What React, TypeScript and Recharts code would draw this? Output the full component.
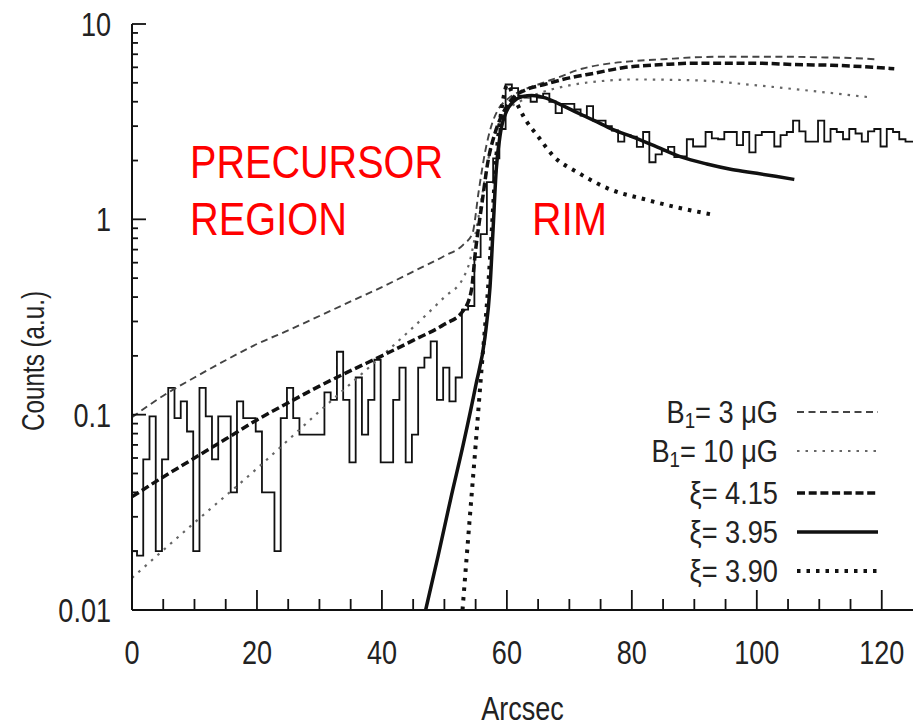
import React from "react";
import { LineChart, Line, XAxis, YAxis, Legend, Label } from "recharts";

// histogram: bin counts, 1 arcsec bins, first edge slightly left of 0
const HIST_FIRST_EDGE = -0.2;
const HIST_BIN = 1;
const HIST_COUNTS = [
  0.02, 0.019, 0.059, 0.098, 0.02, 0.059, 0.137, 0.096, 0.117, 0.082,
  0.02, 0.137, 0.098, 0.059, 0.098, 0.098, 0.04, 0.117, 0.096, 0.096,
  0.082, 0.04, 0.04, 0.02, 0.096, 0.137, 0.096, 0.079, 0.079, 0.079,
  0.079, 0.13, 0.119, 0.21, 0.119, 0.057, 0.155, 0.079, 0.119, 0.191,
  0.057, 0.057, 0.119, 0.174, 0.057, 0.079, 0.174, 0.196, 0.237, 0.119,
  0.174, 0.117, 0.155, 0.345, 0.36, 0.64, 0.84, 1.55, 2.05, 2.9,
  4.9, 4.7, 4.3, 4.2, 4.0, 4.2, 4.4, 4.0, 3.5, 3.9,
  3.9, 3.65, 3.4, 3.8, 3.2, 3.2, 3.0, 2.85, 2.5, 2.7,
  2.65, 2.35, 2.8, 1.96, 2.15, 2.25, 2.35, 2.08, 2.1, 2.57,
  2.36, 2.36, 2.8, 2.6, 2.57, 2.8, 2.8, 2.4, 2.8, 2.2,
  2.7, 2.8, 2.8, 2.36, 2.7, 2.8, 3.2, 2.82, 2.5, 2.5,
  3.2, 2.5, 2.9, 2.8, 2.57, 2.9, 2.75, 2.5, 2.82, 2.9,
  2.36, 2.9, 2.8, 2.57, 2.5, 2.5,
];

// model curves
const B3_X = [0, 5, 10, 15, 20, 25, 30, 35, 40, 45, 50, 53, 54.5, 55.5, 56.5, 57.5, 58.5, 60, 62, 65, 68, 72, 76, 80, 85, 90, 95, 100, 105, 110, 115, 119];
const B3_Y = [0.097, 0.125, 0.155, 0.19, 0.23, 0.27, 0.32, 0.38, 0.45, 0.54, 0.65, 0.74, 0.85, 1.4, 2.2, 3.0, 3.6, 4.1, 4.5, 4.9, 5.3, 5.9, 6.25, 6.45, 6.6, 6.75, 6.8, 6.8, 6.8, 6.75, 6.7, 6.6];

const B10_X = [0, 10, 20, 30, 40, 45, 50, 53, 54, 55, 56, 57, 58, 59, 60, 62, 65, 70, 75, 80, 90, 100, 110, 118.5];
const B10_Y = [0.0146, 0.028, 0.053, 0.104, 0.2, 0.28, 0.4, 0.5, 0.6, 0.85, 1.3, 2.0, 2.7, 3.2, 3.6, 4.0, 4.4, 4.85, 5.1, 5.2, 5.15, 4.85, 4.5, 4.2];

const XI415_X = [0, 5, 10, 15, 20, 25, 30, 35, 40, 45, 50, 53, 54.3, 55, 56, 57, 58, 59, 60, 61, 63, 66, 70, 74, 79, 85, 90, 95, 100, 106, 112, 117, 122];
const XI415_Y = [0.038, 0.048, 0.06, 0.075, 0.094, 0.115, 0.14, 0.168, 0.2, 0.24, 0.29, 0.34, 0.43, 0.7, 1.2, 2.0, 2.7, 3.3, 3.8, 4.2, 4.6, 4.9, 5.3, 5.6, 6.0, 6.2, 6.3, 6.3, 6.3, 6.2, 6.15, 6.05, 5.9];

const XI395_X = [47, 49, 51, 53, 55, 56.5, 57.3, 57.8, 58.3, 59, 60, 61, 62.5, 64, 66, 68, 71, 74, 77, 80, 84, 88, 92, 96, 100, 103, 106];
const XI395_Y = [0.01, 0.019, 0.037, 0.07, 0.14, 0.25, 0.45, 0.9, 1.8, 2.8, 3.6, 4.0, 4.25, 4.3, 4.2, 3.95, 3.55, 3.2, 2.88, 2.65, 2.35, 2.08, 1.92, 1.8, 1.72, 1.66, 1.6];

const XI390_X = [52.9, 54, 55, 56, 57, 57.6, 58.2, 58.8, 59.4, 60.1, 61, 62, 62.7, 64.9, 67.5, 71.3, 76.6, 81.9, 87.3, 93.4];
const XI390_Y = [0.01, 0.028, 0.07, 0.18, 0.45, 0.9, 1.9, 3.0, 4.1, 4.9, 4.3, 3.7, 3.35, 2.68, 2.1, 1.74, 1.42, 1.27, 1.15, 1.05];

const X_TICKS = [0, 5, 10, 15, 20, 25, 30, 35, 40, 45, 50, 55, 60, 65, 70, 75, 80, 85, 90, 95, 100, 105, 110, 115, 120];
const X_LABELED = [0, 20, 40, 60, 80, 100, 120];
const Y_TICKS = [
  0.01, 0.02, 0.03, 0.04, 0.05, 0.06, 0.07, 0.08, 0.09,
  0.1, 0.2, 0.3, 0.4, 0.5, 0.6, 0.7, 0.8, 0.9,
  1, 2, 3, 4, 5, 6, 7, 8, 9, 10,
];
const Y_LABELED = [0.01, 0.1, 1, 10];

const LEGEND_LABELS = [
  { sym: "B", sub: "1", rest: "= 3 μG" },
  { sym: "B", sub: "1", rest: "= 10 μG" },
  { sym: "ξ", sub: "", rest: "= 4.15" },
  { sym: "ξ", sub: "", rest: "= 3.95" },
  { sym: "ξ", sub: "", rest: "= 3.90" },
];

const FONT = "'Liberation Sans', Arial, Helvetica, sans-serif";
const INK = "#111";

const pts = (xs: number[], ys: number[]) => xs.map((x, i) => ({ x, y: ys[i] }));

const histData = [
  ...HIST_COUNTS.map((c, i) => ({ x: HIST_FIRST_EDGE + i * HIST_BIN, y: c })),
  { x: HIST_FIRST_EDGE + HIST_COUNTS.length * HIST_BIN, y: HIST_COUNTS[HIST_COUNTS.length - 1] },
];

// line styles, same order as LEGEND_LABELS
const STYLES = [
  { stroke: "#444", strokeWidth: 1.9, strokeDasharray: "7 4.5" },
  { stroke: "#666", strokeWidth: 2.2, strokeDasharray: "2.5 6" },
  { stroke: INK, strokeWidth: 3.5, strokeDasharray: "8 3.7" },
  { stroke: INK, strokeWidth: 3.5, strokeDasharray: undefined },
  { stroke: INK, strokeWidth: 4, strokeDasharray: "3.5 6" },
];

const SERIES = [
  pts(B3_X, B3_Y),
  pts(B10_X, B10_Y),
  pts(XI415_X, XI415_Y),
  pts(XI395_X, XI395_Y),
  pts(XI390_X, XI390_Y),
];

const textStyle = { fontFamily: FONT, fill: "#222" };

const BottomTick = (p: any) => {
  const v = p.payload.value;
  const major = X_LABELED.includes(v);
  return (
    <g>
      <line x1={p.x} x2={p.x} y1={p.y} y2={p.y - (major ? 20 : 11)} stroke={INK} strokeWidth={1.8} />
      {major && (
        <text transform={`translate(${p.x},${p.y + 54}) scale(0.82,1)`} textAnchor="middle" fontSize={33} style={textStyle}>
          {v}
        </text>
      )}
    </g>
  );
};

const TopTick = (p: any) => {
  const major = X_LABELED.includes(p.payload.value);
  return <line x1={p.x} x2={p.x} y1={p.y} y2={p.y + (major ? 20 : 11)} stroke={INK} strokeWidth={1.8} />;
};

const LeftTick = (p: any) => {
  const v = p.payload.value;
  const major = Y_LABELED.includes(v);
  return (
    <g>
      <line x1={p.x} x2={p.x + (major ? 14 : 6)} y1={p.y} y2={p.y} stroke={INK} strokeWidth={1.8} />
      {major && (
        <text transform={`translate(${p.x - 21},${p.y + 12}) scale(0.82,1)`} textAnchor="end" fontSize={33} style={textStyle}>
          {v}
        </text>
      )}
    </g>
  );
};

const RightTick = (p: any) => {
  const major = Y_LABELED.includes(p.payload.value);
  return <line x1={p.x} x2={p.x - (major ? 14 : 7)} y1={p.y} y2={p.y} stroke={INK} strokeWidth={1.8} />;
};

const XTitle = (p: any) => {
  const vb = p.viewBox;
  return (
    <text transform={`translate(${vb.x + vb.width / 2},${vb.y + 110}) scale(0.82,1)`} textAnchor="middle" fontSize={33} style={textStyle}>
      Arcsec
    </text>
  );
};

const YTitle = () => (
  <text
    transform="translate(44,361) rotate(-90)"
    textAnchor="middle"
    fontSize={31}
    textLength={140}
    lengthAdjust="spacingAndGlyphs"
    style={textStyle}
  >
    Counts (a.u.)
  </text>
);

const LEGEND_LEFT = 640;
const LEGEND_TOP = 390;
const ROW_BASE = [423, 462, 504, 543, 582];

const LegendBox = () => (
  <svg width={270} height={210} style={{ overflow: "visible" }}>
    {LEGEND_LABELS.map((l, i) => {
      const by = ROW_BASE[i] - LEGEND_TOP;
      const s = STYLES[i];
      return (
        <g key={i}>
          <text transform={`translate(${778 - LEGEND_LEFT},${by}) scale(0.85,1)`} textAnchor="end" fontSize={32} style={textStyle}>
            {l.sym}
            {l.sub && (
              <tspan fontSize={22} dy={5}>
                {l.sub}
              </tspan>
            )}
            <tspan dy={l.sub ? -5 : 0}>{l.rest}</tspan>
          </text>
          <line
            x1={797 - LEGEND_LEFT}
            x2={878 - LEGEND_LEFT}
            y1={by - 11}
            y2={by - 11}
            stroke={s.stroke}
            strokeWidth={s.strokeWidth}
            strokeDasharray={s.strokeDasharray}
          />
        </g>
      );
    })}
  </svg>
);

export default function App() {
  return (
    <div style={{ position: "absolute", left: 0, top: 0, width: 924, height: 726, background: "#fff", fontFamily: FONT }}>
      <LineChart width={924} height={726} margin={{ top: 24, right: 11, left: 0, bottom: 0 }}>
        <XAxis
          xAxisId="b"
          type="number"
          dataKey="x"
          domain={[0, 125]}
          allowDataOverflow
          ticks={X_TICKS}
          interval={0}
          height={116}
          tickSize={0}
          tickMargin={0}
          tick={<BottomTick />}
          tickLine={false}
          axisLine={{ stroke: INK, strokeWidth: 2 }}
        >
          <Label content={<XTitle />} />
        </XAxis>
        <XAxis
          xAxisId="t"
          orientation="top"
          type="number"
          dataKey="x"
          domain={[0, 125]}
          allowDataOverflow
          ticks={X_TICKS}
          interval={0}
          height={0}
          tickSize={0}
          tickMargin={0}
          tick={<TopTick />}
          tickLine={false}
          axisLine={{ stroke: INK, strokeWidth: 2 }}
        />
        <YAxis
          yAxisId="l"
          scale="log"
          domain={[0.01, 10]}
          allowDataOverflow
          ticks={Y_TICKS}
          interval={0}
          width={132}
          tickSize={0}
          tickMargin={0}
          tick={<LeftTick />}
          tickLine={false}
          axisLine={{ stroke: INK, strokeWidth: 2 }}
        >
          <Label content={<YTitle />} />
        </YAxis>
        <YAxis
          yAxisId="r"
          orientation="right"
          scale="log"
          domain={[0.01, 10]}
          allowDataOverflow
          ticks={Y_TICKS}
          interval={0}
          width={0}
          tickSize={0}
          tickMargin={0}
          tick={<RightTick />}
          tickLine={false}
          axisLine={{ stroke: INK, strokeWidth: 2 }}
        />
        <Line
          xAxisId="b"
          yAxisId="l"
          data={histData}
          dataKey="y"
          type="stepAfter"
          stroke={INK}
          strokeWidth={1.8}
          dot={false}
          isAnimationActive={false}
        />
        {SERIES.map((d, i) => (
          <Line
            key={i}
            xAxisId="b"
            yAxisId="l"
            data={d}
            dataKey="y"
            type="monotone"
            stroke={STYLES[i].stroke}
            strokeWidth={STYLES[i].strokeWidth}
            strokeDasharray={STYLES[i].strokeDasharray}
            dot={false}
            isAnimationActive={false}
          />
        ))}
        <Legend
          layout="horizontal"
          verticalAlign="middle"
          align="center"
          content={<LegendBox />}
          wrapperStyle={{ position: "absolute", left: LEGEND_LEFT, top: LEGEND_TOP, width: 270, height: 210 }}
        />
      </LineChart>
      <svg width={924} height={726} style={{ position: "absolute", left: 0, top: 0, pointerEvents: "none" }}>
        <g fill="#ff0000" fontFamily={FONT} fontSize={46}>
          <text x={190} y={178} textLength={253} lengthAdjust="spacingAndGlyphs">PRECURSOR</text>
          <text x={190} y={235} textLength={157} lengthAdjust="spacingAndGlyphs">REGION</text>
          <text x={532} y={235} textLength={75} lengthAdjust="spacingAndGlyphs">RIM</text>
        </g>
      </svg>
    </div>
  );
}
